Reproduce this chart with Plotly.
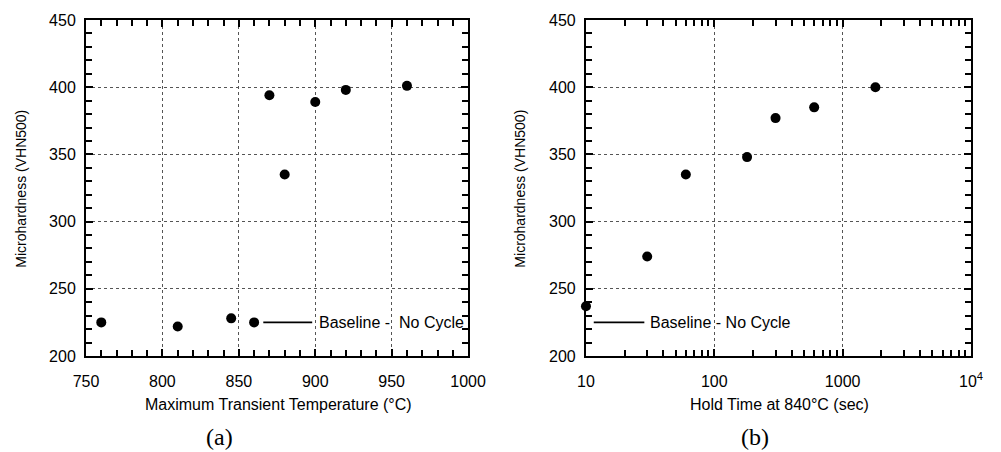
import math
import plotly.graph_objects as go

# Panel (a)
temp_a = [760, 810, 845, 860, 870, 880, 900, 920, 960]
hard_a = [225, 222, 228, 225, 394, 335, 389, 398, 401]
base_a_x = [866, 898]
base_a_y = [225, 225]
base_a_text_x = 901

# Panel (b)
time_b = [10, 30, 60, 180, 300, 600, 1800]
hard_b = [237, 274, 335, 348, 377, 385, 400]
base_b_x = [11.5, 28.5]
base_b_y = [225, 225]
base_b_text_x = 30.5

yticks = [200, 250, 300, 350, 400, 450]
xticks_a = [750, 800, 850, 900, 950, 1000]
xticks_b = [10, 100, 1000, 10000]
xticklabels_b = ["10", "100", "1000", "10<sup>4</sup>"]
xminor_b = [m * d for d in (10, 100, 1000) for m in range(2, 10)]

W, H = 1001, 452
ML, MR, MT, MB = 86, 14, 15, 96
PW, PH = W - ML - MR, H - MT - MB
def px_x(p): return (p - ML) / PW
def px_y(p): return (H - MB - p) / PH

fig = go.Figure()
fig.add_trace(go.Scatter(x=temp_a, y=hard_a, mode="markers", xaxis="x", yaxis="y",
                         marker=dict(color="black", size=10), showlegend=False, cliponaxis=False))
fig.add_trace(go.Scatter(x=base_a_x, y=base_a_y, mode="lines", xaxis="x", yaxis="y",
                         line=dict(color="black", width=1.6), showlegend=False))
fig.add_trace(go.Scatter(x=time_b, y=hard_b, mode="markers", xaxis="x2", yaxis="y2",
                         marker=dict(color="black", size=10), showlegend=False, cliponaxis=False))
fig.add_trace(go.Scatter(x=base_b_x, y=base_b_y, mode="lines", xaxis="x2", yaxis="y2",
                         line=dict(color="black", width=1.6), showlegend=False))

FONT = "Arial, Liberation Sans, sans-serif"
tickfont = dict(family=FONT, size=16, color="black")

common_axis = dict(showline=True, linecolor="black", linewidth=2, mirror="ticks",
                   ticks="inside", ticklen=7, tickwidth=2, tickcolor="black",
                   showgrid=True, gridcolor="#555", griddash="dot", gridwidth=1,
                   zeroline=False, tickfont=tickfont)
minor_lin = dict(ticks="inside", ticklen=6, tickwidth=2, tickcolor="black", dtick=10, showgrid=False)

fig.update_layout(
    width=W, height=H, margin=dict(l=ML, r=MR, t=MT, b=MB),
    plot_bgcolor="white", paper_bgcolor="white",
    xaxis=dict(domain=[px_x(86), px_x(475)], range=[750, 1000], tickvals=xticks_a,
               anchor="y", minor=minor_lin, ticklabelstandoff=10, **common_axis),
    yaxis=dict(domain=[0, 1], range=[200, 450], dtick=50, anchor="x",
               minor=minor_lin, ticklabelstandoff=5, **common_axis),
    xaxis2=dict(domain=[px_x(595), px_x(987)], type="log", range=[1, 4], tickvals=xticks_b,
                ticktext=xticklabels_b, anchor="y2", ticklabelstandoff=10,
                minor=dict(tickmode="array", tickvals=xminor_b, ticks="inside", ticklen=6,
                           tickwidth=2, tickcolor="black", showgrid=False),
                **common_axis),
    yaxis2=dict(domain=[0, 1], range=[200, 450], dtick=50, anchor="x2",
                minor=minor_lin, ticklabelstandoff=5, **common_axis),
)

bfont = dict(family=FONT, size=16, color="black")
fig.add_annotation(x=base_a_text_x, y=225, xref="x", yref="y", text="Baseline -  No Cycle",
                   showarrow=False, xanchor="left", yanchor="middle", font=bfont)
fig.add_annotation(x=math.log10(base_b_text_x), y=225, xref="x2", yref="y2", text="Baseline - No Cycle",
                   showarrow=False, xanchor="left", yanchor="middle", font=bfont)

# axis titles
xtf = dict(family=FONT, size=16, color="black")
ytf = dict(family=FONT, size=14, color="black")
fig.add_annotation(x=px_x(282), y=px_y(405), xref="paper", yref="paper",
                   text="Maximum Transient Temperature (°C)", showarrow=False,
                   xanchor="center", yanchor="middle", font=xtf)
fig.add_annotation(x=px_x(792), y=px_y(405), xref="paper", yref="paper",
                   text="Hold Time at 840°C (sec)", showarrow=False,
                   xanchor="center", yanchor="middle", font=xtf)
fig.add_annotation(x=px_x(20), y=px_y(186), xref="paper", yref="paper",
                   text="Microhardness (VHN500)", showarrow=False, textangle=-90,
                   xanchor="center", yanchor="middle", font=ytf)
fig.add_annotation(x=px_x(528), y=px_y(186), xref="paper", yref="paper",
                   text="Microhardness (VHN500)", showarrow=False, textangle=-90,
                   xanchor="center", yanchor="middle", font=ytf)

serif = dict(family="Times New Roman, Liberation Serif, serif", size=24, color="black")
fig.add_annotation(x=px_x(222), y=px_y(438), xref="paper", yref="paper", text="(a)",
                   showarrow=False, xanchor="center", yanchor="middle", font=serif)
fig.add_annotation(x=px_x(767), y=px_y(438), xref="paper", yref="paper", text="(b)",
                   showarrow=False, xanchor="center", yanchor="middle", font=serif)

fig.write_html("out.html")
